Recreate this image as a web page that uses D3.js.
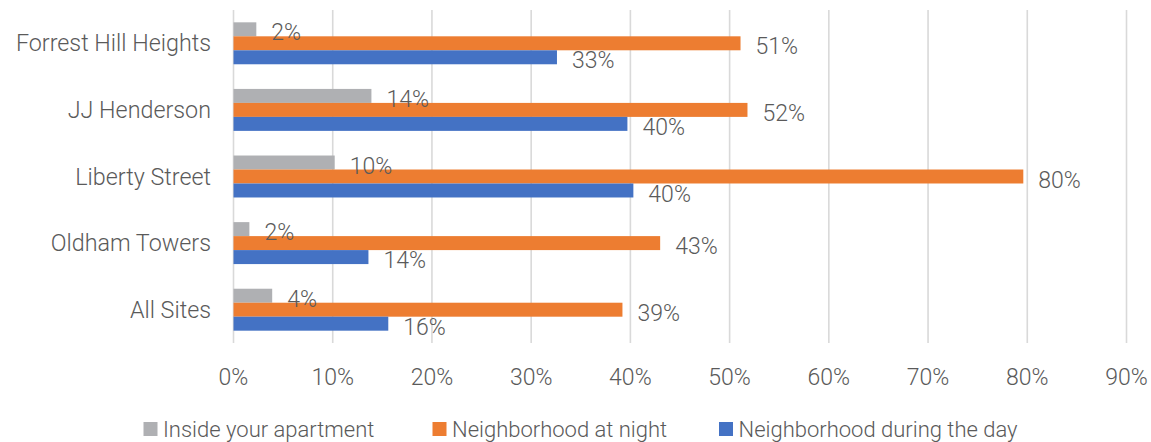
<!DOCTYPE html>
<html>
<head>
<meta charset="utf-8">
<script src="https://cdn.jsdelivr.net/npm/d3@7"></script>
<style>
  html, body { margin: 0; padding: 0; background: #ffffff; }
  svg text { font-family: Roboto, "Noto Sans", sans-serif; fill: #5a5a5a; font-weight: 300; }
</style>
</head>
<body>
<svg id="chart" width="1151" height="442"></svg>
<script>
const categories = ["Forrest Hill Heights", "JJ Henderson", "Liberty Street", "Oldham Towers", "All Sites"];
const seriesNames = ["Inside your apartment", "Neighborhood at night", "Neighborhood during the day"];
const insideApartment = [2.3, 13.9, 10.2, 1.6, 3.9];
const neighborhoodNight = [51.1, 51.8, 79.6, 43.0, 39.2];
const neighborhoodDay = [32.6, 39.7, 40.3, 13.6, 15.6];
const xTicks = [0, 10, 20, 30, 40, 50, 60, 70, 80, 90];
const colors = ["#afb0b3", "#ed7d31", "#4472c4"];

const seriesValues = [insideApartment, neighborhoodNight, neighborhoodDay];
const svg = d3.select("#chart");

const x = d3.scaleLinear().domain([0, 90]).range([233.5, 1126.5]);
const y = d3.scaleBand().domain(categories).range([10, 343]).paddingInner(0.37).paddingOuter(0.185);
const yInner = d3.scaleBand().domain(seriesNames).range([0, y.bandwidth()]);

// gridlines
svg.append("g").selectAll("line").data(xTicks).join("line")
  .attr("x1", d => x(d)).attr("x2", d => x(d))
  .attr("y1", 10).attr("y2", 343)
  .attr("stroke", "#d9d9d9").attr("stroke-width", 1.6);

// x tick labels
svg.append("g").selectAll("text").data(xTicks).join("text")
  .attr("x", d => x(d)).attr("y", 385)
  .attr("text-anchor", "middle")
  .style("font-size", "23px")
  .text(d => d + "%");

// category labels
svg.append("g").selectAll("text").data(categories).join("text")
  .attr("x", 211)
  .attr("y", d => y(d) + y.bandwidth() / 2)
  .attr("dy", "0.35em")
  .attr("text-anchor", "end")
  .style("font-size", "23.3px")
  .text(d => d);

// bars
const rows = [];
categories.forEach((c, i) => {
  seriesNames.forEach((s, j) => rows.push({ cat: c, series: s, value: seriesValues[j][i], color: colors[j] }));
});

svg.append("g").selectAll("rect").data(rows).join("rect")
  .attr("x", x(0))
  .attr("y", d => y(d.cat) + yInner(d.series))
  .attr("width", d => x(d.value) - x(0))
  .attr("height", yInner.bandwidth())
  .attr("fill", d => d.color);

// value labels
svg.append("g").selectAll("text").data(rows).join("text")
  .attr("x", d => x(d.value) + 15)
  .attr("y", d => y(d.cat) + yInner(d.series) + yInner.bandwidth() / 2 + 3)
  .attr("dy", "0.35em")
  .style("font-size", "23px")
  .text(d => Math.round(d.value) + "%");

// legend
const legendX = [143.5, 432.5, 719];
const legend = svg.append("g");
const items = legend.selectAll("g").data(seriesNames).join("g")
  .attr("transform", (d, i) => `translate(${legendX[i]},436.5)`);
items.append("rect").attr("width", 14).attr("height", 14).attr("y", -14.5)
  .attr("fill", (d, i) => colors[i]);
items.append("text").attr("x", 19.5).attr("y", 0)
  .style("font-size", "22px")
  .text(d => d);
</script>
</body>
</html>
